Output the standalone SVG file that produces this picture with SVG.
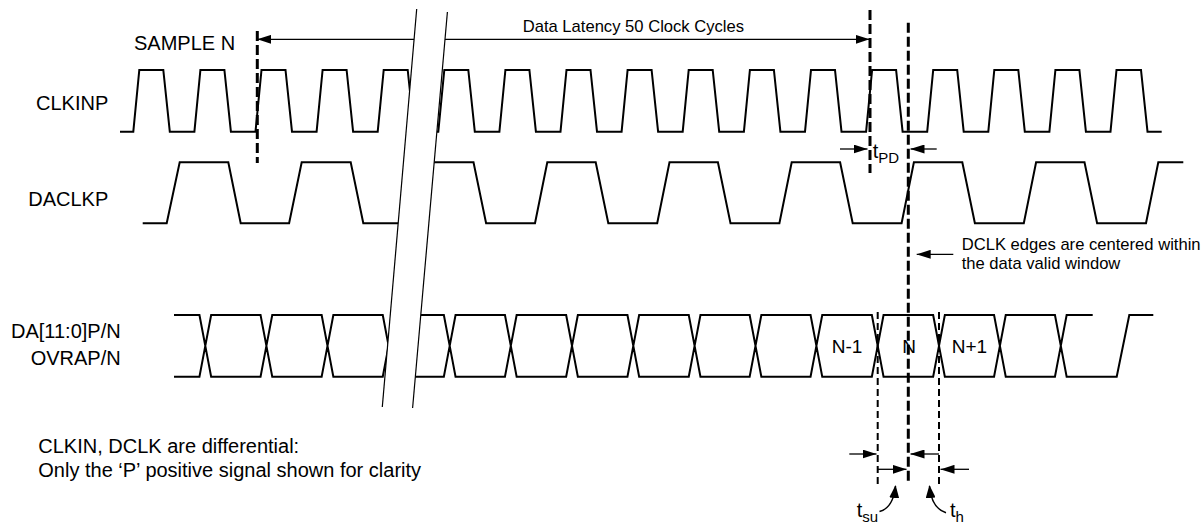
<svg xmlns="http://www.w3.org/2000/svg" width="1201" height="525" viewBox="0 0 1201 525">
<style>
.t{font-family:"Liberation Sans",Arial,sans-serif;fill:#000}
.l20{font-size:20px}
.l16{font-size:16.6px}
.w{fill:none;stroke:#000;stroke-width:2;stroke-linejoin:miter}
.brk{fill:none;stroke:#000;stroke-width:1.2}
.thick{fill:none;stroke:#000;stroke-width:3;stroke-dasharray:10 4}
.thin{fill:none;stroke:#000;stroke-width:2;stroke-dasharray:7 4}
.ar{fill:none;stroke:#000;stroke-width:1.3;marker-end:url(#ah)}
.cv{fill:none;stroke:#000;stroke-width:1.5;marker-end:url(#ahs)}
</style>
<defs>
<marker id="ah" viewBox="0 0 14 9" refX="14" refY="4.5" markerWidth="14" markerHeight="9" markerUnits="userSpaceOnUse" orient="auto"><path d="M0,0 L14,4.5 L0,9 Z" fill="#000"/></marker>
<marker id="ahs" viewBox="0 0 13 10" refX="12" refY="5" markerWidth="13" markerHeight="10" markerUnits="userSpaceOnUse" orient="auto"><path d="M0,0 L13,5 L0,10 Z" fill="#000"/></marker>
<clipPath id="brkclip" clipPathUnits="userSpaceOnUse">
<polygon points="0,0 417.5,0 372.1,525 0,525"/>
<polygon points="448.5,0 1201,0 1201,525 402.4,525"/>
</clipPath>
</defs>
<rect width="1201" height="525" fill="#fff"/>

<g id="labels">
<text class="t l20" x="134" y="50">SAMPLE N</text>
<text class="t l20" x="108.3" y="110" text-anchor="end">CLKINP</text>
<text class="t l20" x="108.3" y="206" text-anchor="end">DACLKP</text>
<text class="t l20" x="120.7" y="338.3" text-anchor="end">DA[11:0]P/N</text>
<text class="t l20" x="120.7" y="365" text-anchor="end">OVRAP/N</text>
<text class="t l16" x="522.7" y="32.3">Data Latency 50 Clock Cycles</text>
<text class="t l16" x="961.7" y="250">DCLK edges are centered within</text>
<text class="t l16" x="961.7" y="269">the data valid window</text>
<text class="t l20" x="38.3" y="453.3">CLKIN, DCLK are differential:</text>
<text class="t l20" x="38.3" y="476.7">Only the ‘P’ positive signal shown for clarity</text>
</g>

<g id="clkinp" clip-path="url(#brkclip)">
<path class="w" d="M120,131.7 L133.3,131.7 L139.3,70 L163.3,70 L169.8,131.7 L194.4,131.7 L200.4,70 L224.4,70 L230.9,131.7 L255.5,131.7 L261.5,70 L285.5,70 L292,131.7 L316.6,131.7 L322.6,70 L346.6,70 L353.1,131.7 L377.7,131.7 L383.7,70 L407.7,70 L414.2,131.7 L438.3,131.7 L444.3,70 L468.3,70 L474.8,131.7 L499.4,131.7 L505.4,70 L529.4,70 L535.9,131.7 L560.5,131.7 L566.5,70 L590.5,70 L597,131.7 L621.6,131.7 L627.6,70 L651.6,70 L658.1,131.7 L682.7,131.7 L688.7,70 L712.7,70 L719.2,131.7 L743.9,131.7 L749.9,70 L773.9,70 L780.4,131.7 L805,131.7 L811,70 L835,70 L841.5,131.7 L866.1,131.7 L872.1,70 L896.1,70 L902.6,131.7 L927.2,131.7 L933.2,70 L957.2,70 L963.7,131.7 L988.3,131.7 L994.3,70 L1018.3,70 L1024.8,131.7 L1049.4,131.7 L1055.4,70 L1079.4,70 L1085.9,131.7 L1110.5,131.7 L1116.5,70 L1141,70 L1147.5,131.7 L1161.7,131.7"/>
</g>

<g id="daclkp" clip-path="url(#brkclip)">
<path class="w" d="M142.7,223.3 L166.7,223.3 L179.7,162.3 L228.3,162.3 L240.7,223.3 L289.1,223.3 L301.7,162.3 L350.7,162.3 L363.3,223.3 L411.3,223.3 L423.6,162.3 L473.5,162.3 L486.1,223.3 L535,223.3 L547.3,162.3 L595.7,162.3 L608.3,223.3 L657.2,223.3 L669.5,162.3 L717.9,162.3 L730.5,223.3 L779.4,223.3 L791.7,162.3 L840.1,162.3 L852.7,223.3 L901.6,223.3 L913.9,162.3 L962.3,162.3 L974.9,223.3 L1023.8,223.3 L1036.1,162.3 L1084.5,162.3 L1097.1,223.3 L1146,223.3 L1158.3,162.3 L1183.3,162.3"/>
</g>

<g id="data" clip-path="url(#brkclip)">
<path class="w" d="M174,315 L199.45,315 L205.3,345.85 L199.45,376.7 L174,376.7
M205.3,345.85 L211.15,315 L260.55,315 L266.4,345.85 L260.55,376.7 L211.15,376.7 Z
M266.4,345.85 L272.25,315 L321.65,315 L327.5,345.85 L321.65,376.7 L272.25,376.7 Z
M327.5,345.85 L333.35,315 L382.75,315 L388.6,345.85 L382.75,376.7 L333.35,376.7 Z
M388.6,345.85 L394.45,315 L443.85,315 L449.7,345.85 L443.85,376.7 L394.45,376.7 Z
M449.7,345.85 L455.55,315 L504.95,315 L510.8,345.85 L504.95,376.7 L455.55,376.7 Z
M510.8,345.85 L516.65,315 L566.15,315 L572,345.85 L566.15,376.7 L516.65,376.7 Z
M572,345.85 L577.85,315 L627.45,315 L633.3,345.85 L627.45,376.7 L577.85,376.7 Z
M633.3,345.85 L639.15,315 L688.75,315 L694.6,345.85 L688.75,376.7 L639.15,376.7 Z
M694.6,345.85 L700.45,315 L749.65,315 L755.5,345.85 L749.65,376.7 L700.45,376.7 Z
M755.5,345.85 L761.35,315 L810.55,315 L816.4,345.85 L810.55,376.7 L761.35,376.7 Z
M816.4,345.85 L822.25,315 L871.85,315 L877.7,345.85 L871.85,376.7 L822.25,376.7 Z
M877.7,345.85 L883.55,315 L933.15,315 L939,345.85 L933.15,376.7 L883.55,376.7 Z
M939,345.85 L944.85,315 L994.05,315 L999.9,345.85 L994.05,376.7 L944.85,376.7 Z
M999.9,345.85 L1005.75,315 L1054.95,315 L1060.8,345.85 L1054.95,376.7 L1005.75,376.7 Z
M1092.7,315 L1066.65,315 L1060.8,345.85 L1066.65,376.7 L1116.7,376.7 L1129.3,315 L1153.3,315"/>
</g>

<g id="data-labels">
<text class="t" font-size="19" x="831.7" y="353.3">N-1</text>
<text class="t" font-size="19" x="902.3" y="353.3">N</text>
<text class="t" font-size="19" x="951.7" y="353.3">N+1</text>
</g>

<g id="break">
<line class="brk" x1="416.7" y1="9" x2="382.3" y2="407"/>
<line class="brk" x1="447.4" y1="12" x2="412.6" y2="408"/>
</g>

<g id="connectors">
<line class="thick" x1="257.3" y1="31" x2="257.3" y2="163"/>
<line class="thick" x1="870" y1="10" x2="870" y2="173"/>
<line class="thick" x1="908.3" y1="22.7" x2="908.3" y2="482"/>
<line class="thin" x1="877.7" y1="312" x2="877.7" y2="485"/>
<line class="thin" x1="939" y1="312" x2="939" y2="485"/>
<line class="ar" x1="414.1" y1="39.3" x2="257.3" y2="39.3"/>
<line class="ar" x1="445" y1="39.3" x2="869.5" y2="39.3"/>
<line class="ar" x1="840" y1="149" x2="867.5" y2="149"/>
<line class="ar" x1="936.7" y1="149" x2="910.5" y2="149"/>
<line class="ar" x1="953.3" y1="254.3" x2="916.7" y2="254.3"/>
<line class="ar" x1="849.3" y1="454" x2="876.5" y2="454"/>
<line class="ar" x1="939" y1="454" x2="910.5" y2="454"/>
<line class="ar" x1="877.7" y1="469.3" x2="906.5" y2="469.3"/>
<line class="ar" x1="969" y1="469.3" x2="940.5" y2="469.3"/>
<path class="cv" d="M879.5,511.5 C889,509 894,500 895.5,486"/>
<path class="cv" d="M946,512.7 C937,510 931,502 929.5,486"/>
</g>

<g id="timing-labels">
<text class="t l20" x="872.7" y="158.3">t<tspan font-size="15" dy="4.4">PD</tspan></text>
<text class="t l20" x="856.7" y="516.7">t<tspan font-size="15" dy="5">su</tspan></text>
<text class="t l20" x="950" y="516.7">t<tspan font-size="15" dy="5">h</tspan></text>
</g>
</svg>
